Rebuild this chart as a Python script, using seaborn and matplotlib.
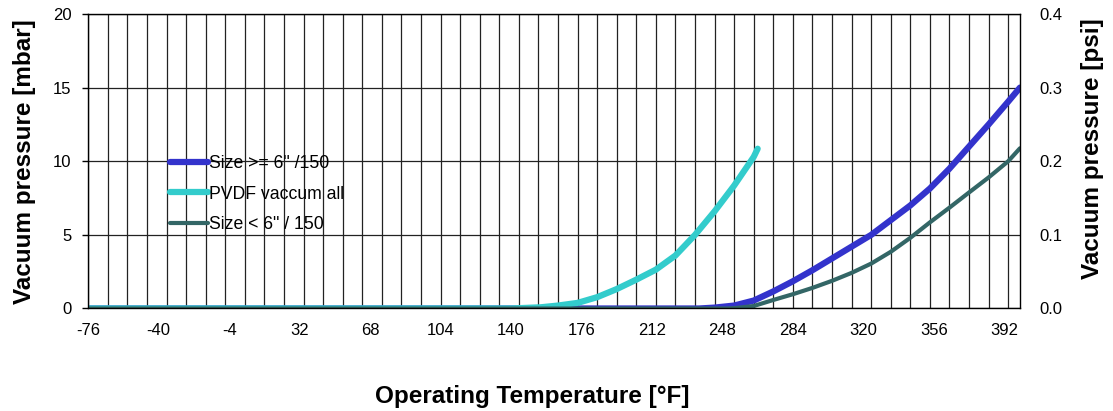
#!/usr/bin/env python3
"""Vacuum pressure vs operating temperature (mbar left, psi right)."""

import numpy as np
import pandas as pd
import matplotlib
matplotlib.use('Agg')
import matplotlib.pyplot as plt
import seaborn as sns

# values (temperature in F, pressure in mbar)
big_temp = [-76, 236, 244, 254, 264, 274, 284, 294, 304, 314, 324, 334, 344,
            354, 364, 374, 384, 394, 400]
big_mbar = [0, 0, 0.06, 0.2, 0.54, 1.16, 1.85, 2.6, 3.4, 4.2, 5.0, 6.0, 7.0,
            8.15, 9.5, 11.0, 12.5, 14.05, 15.0]

pvdf_temp = [-76, 140, 155, 164, 174, 184, 194, 204, 214, 224, 234, 244, 254, 264, 266]
pvdf_mbar = [0, 0, 0.08, 0.2, 0.38, 0.77, 1.32, 1.96, 2.64, 3.6, 5.0, 6.6, 8.35, 10.3, 10.85]

small_temp = [-76, 250, 254, 264, 274, 284, 294, 304, 314, 324, 334, 344, 354,
              364, 374, 384, 394, 400]
small_mbar = [0, 0, 0.02, 0.17, 0.58, 0.97, 1.4, 1.88, 2.42, 3.05, 3.85, 4.8, 5.85,
              6.85, 7.88, 8.9, 10.0, 10.88]

series_names = ['Size >= 6" /150', 'PVDF vaccum all', 'Size < 6" / 150']
series_colors = ['#3333CC', '#33CCCC', '#336666']
series_widths = [4.5, 4.5, 3.0]

x_ticks = list(range(-76, 393, 36))
y_ticks = [0, 5, 10, 15, 20]
psi_ticks = [0.0, 0.1, 0.2, 0.3, 0.4]

sns.set_style('white')
plt.rcParams['font.family'] = ['Liberation Sans', 'DejaVu Sans']
plt.rcParams['text.color'] = 'black'
plt.rcParams['axes.labelcolor'] = 'black'
plt.rcParams['xtick.color'] = 'black'
plt.rcParams['ytick.color'] = 'black'

fig = plt.figure(figsize=(11.13, 4.11), dpi=100)
ax = fig.add_axes([0.0793, 0.2494, 0.9164 - 0.0793, 0.966 - 0.2494])

# background grid: vertical every 10 F, horizontal every 5 mbar
for gx in np.arange(-76, 400, 10):
    ax.axvline(gx, color='#222222', lw=0.9, zorder=0)
ax.yaxis.grid(True, color='#222222', lw=0.9)
ax.set_axisbelow(True)

frames = [
    pd.DataFrame({'temp': big_temp, 'mbar': big_mbar}),
    pd.DataFrame({'temp': pvdf_temp, 'mbar': pvdf_mbar}),
    pd.DataFrame({'temp': small_temp, 'mbar': small_mbar}),
]
for df, name, col, lw in zip(frames, series_names, series_colors, series_widths):
    sns.lineplot(data=df, x='temp', y='mbar', color=col, lw=lw, label=name,
                 ax=ax, solid_capstyle='round', solid_joinstyle='round')

ax.set_xlim(-76, 400)
ax.set_ylim(0, 20)
ax.set_xticks(x_ticks)
ax.set_xticklabels([str(t) for t in x_ticks])
ax.set_xticks(np.arange(-76, 400, 12), minor=True)
ax.set_yticks(y_ticks)
ax.tick_params(axis='x', which='major', direction='inout', length=7, width=1,
               labelsize=12, pad=7)
ax.tick_params(axis='x', which='minor', direction='out', length=3, width=1)
ax.tick_params(axis='y', which='major', direction='out', length=4, width=1,
               labelsize=12, pad=8, left=True)

for sp in ax.spines.values():
    sp.set_color('black')
    sp.set_linewidth(1)

ax.set_xlabel('Operating Temperature [°F]', fontsize=17.5, fontweight='bold')
ax.xaxis.set_label_coords(0.4768, -0.26)
ax.set_ylabel('Vacuum pressure [mbar]', fontsize=17.5, fontweight='bold', labelpad=12)

ax2 = ax.twinx()
ax2.set_ylim(0, 0.4)
ax2.set_yticks(psi_ticks)
ax2.set_yticklabels([f'{v:.1f}' for v in psi_ticks])
ax2.tick_params(axis='y', length=0, labelsize=12, pad=14)
ax2.set_ylabel('Vacuum pressure [psi]', fontsize=17.5, fontweight='bold')
ax2.yaxis.set_label_coords(1.066, 0.542)
for sp in ax2.spines.values():
    sp.set_visible(False)

leg = ax.legend(loc='upper left', bbox_to_anchor=(0.0877, 0.522), frameon=False,
                fontsize=12.7, handlelength=2.15, handletextpad=0.05,
                labelspacing=0.78, borderaxespad=0, borderpad=0)

fig.savefig('out.png', dpi=100)
